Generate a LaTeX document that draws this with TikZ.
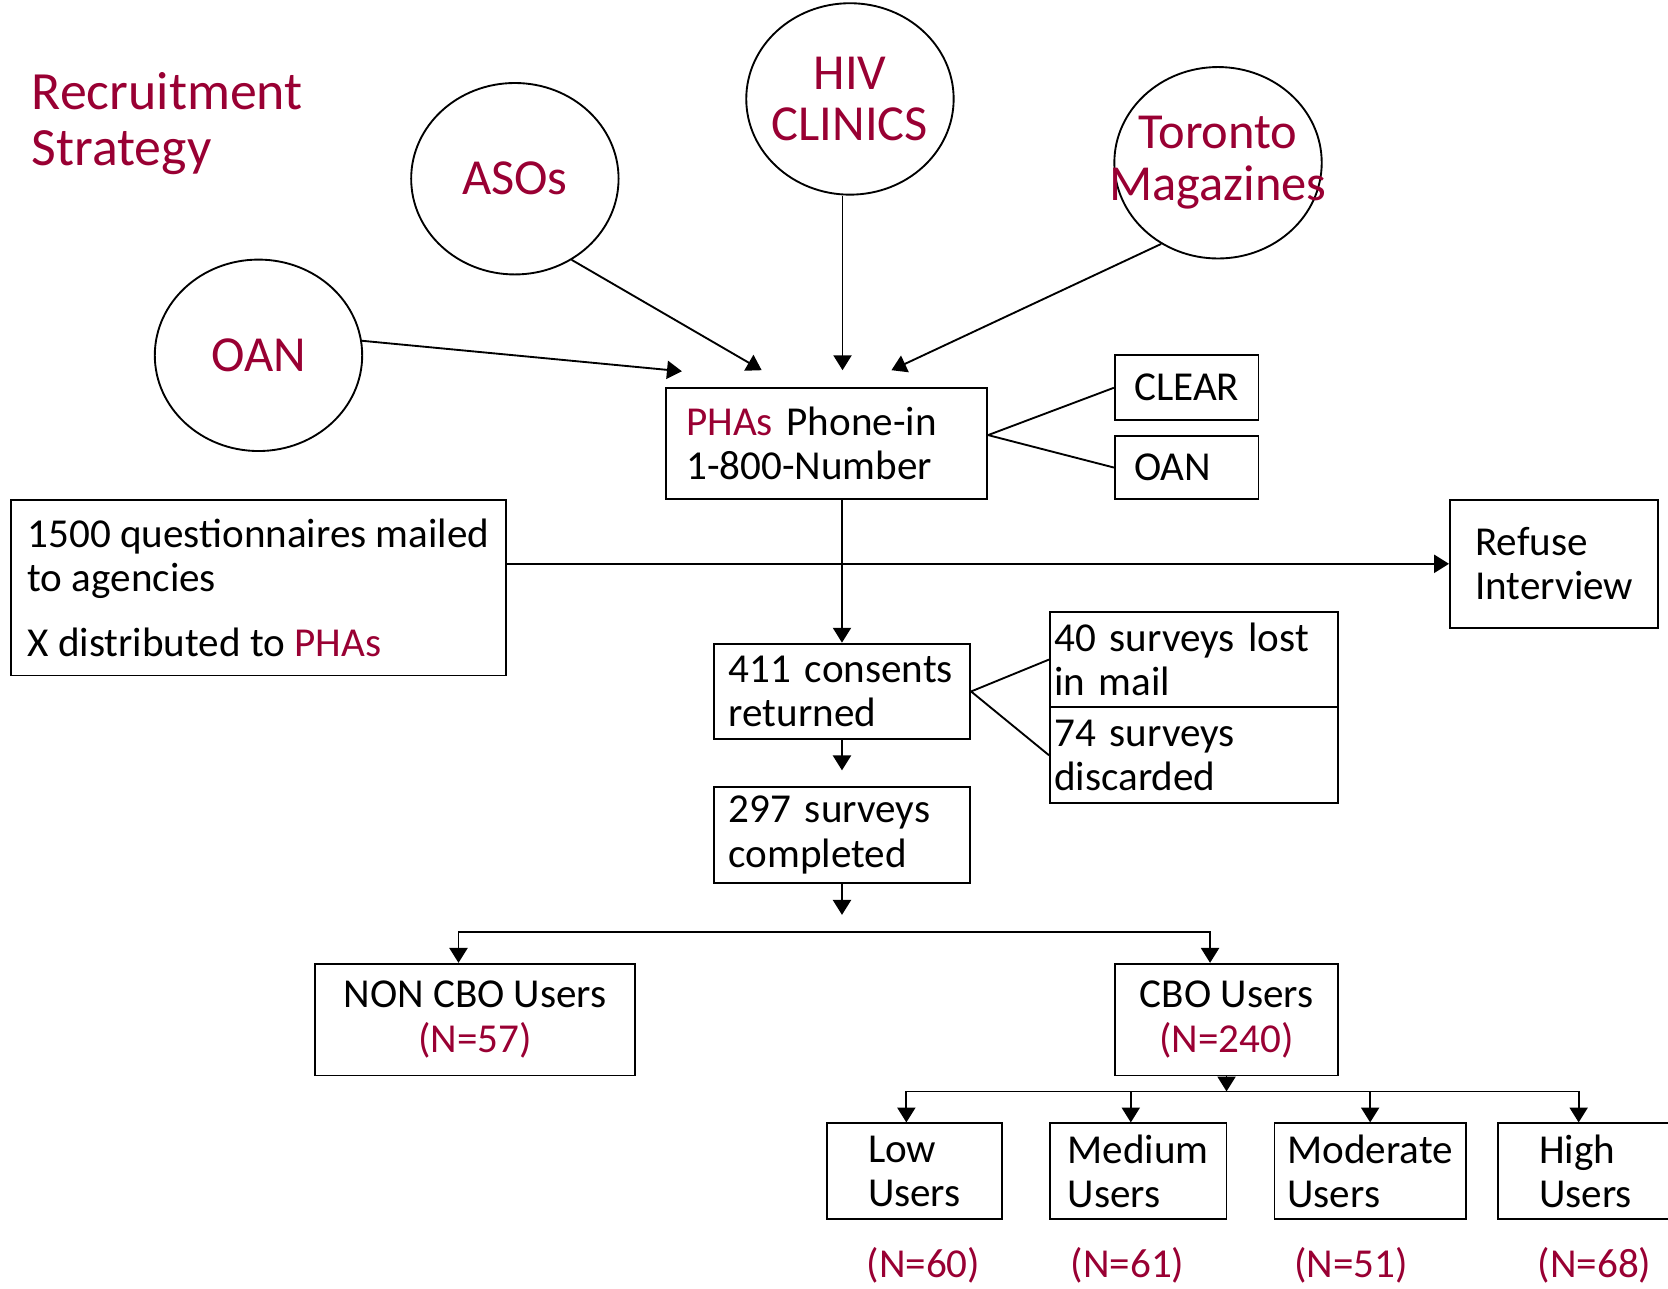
\documentclass[tikz,border=0pt]{standalone}
\usepackage{fontspec}
\setmainfont{Carlito}
\usetikzlibrary{shapes.geometric,arrows.meta}
\definecolor{phared}{RGB}{153,0,51}
\newcommand{\bigtxt}{\fontsize{27}{27.5}\selectfont}
\newcommand{\boxtxt}{\fontsize{22}{23.8}\selectfont}
\newcommand{\nowd}[1]{\makebox[0pt]{#1}}

\begin{document}
\begin{tikzpicture}[x=0.02cm,y=-0.02cm,line width=1pt,
  circ/.style={draw,ellipse,minimum width=3.9cm,minimum height=3.6cm,inner sep=0pt,font=\bigtxt,text=phared,align=center},
  box/.style={draw,inner sep=0pt,font=\boxtxt,align=left},
  arr/.style={-{Triangle[length=0.28cm,width=0.34cm]}}]
\useasboundingbox (0,0) rectangle (1568,1211);

\node[font=\fontsize{28.8}{30}\selectfont,text=phared,align=left,anchor=north west,inner sep=0pt] (title) at (29,67) {Recruitment\\Strategy};

% sources
\node[circ] (oan) at (243,334) {OAN};
\node[circ] (asos) at (484,168) {ASOs};
\node[circ] (hiv) at (799,93) {\nowd{HIV}\\\nowd{CLINICS}};
\node[circ] (tor) at (1145,153) {\nowd{Toronto}\\\nowd{Magazines}};

\coordinate (t1) at (641,349);
\coordinate (t2) at (716,348);
\coordinate (t3) at (792,348);
\coordinate (t4) at (838,348);

\node[box,text width=5.28cm,inner xsep=0.38cm,minimum height=2.08cm] (phas) at (777,417) {\textcolor{phared}{PHAs} Phone-in\\1-800-Number};
\node[box,minimum width=2.70cm,minimum height=1.22cm] (clear) at (1115.5,364.5) {CLEAR};
\node[box,text width=1.98cm,inner xsep=0.36cm,minimum height=1.18cm] (oanbox) at (1115.5,439.5) {OAN};

\node[box,minimum width=9.32cm,minimum height=3.30cm] (mail) at (243,552.5) {1500 questionnaires mailed\\to agencies\\[10.8pt]X distributed to \textcolor{phared}{PHAs}};
\node[box,minimum width=3.92cm,minimum height=2.40cm] (refuse) at (1461,530) {Refuse\\Interview};

\node[box,text width=4.26cm,inner xsep=0.28cm,minimum height=1.80cm] (c411) at (791.5,650) {411 consents\\returned};
\node[box,text width=5.26cm,inner xsep=0.08cm,minimum height=1.80cm] (lost) at (1122.5,620) {40 surveys lost\\in mail};
\node[box,text width=5.26cm,inner xsep=0.08cm,minimum height=1.80cm] (disc) at (1122.5,710) {74 surveys\\discarded};
\node[box,text width=4.26cm,inner xsep=0.28cm,minimum height=1.80cm] (c297) at (791.5,785) {297 surveys\\completed};

\node[box,align=center,minimum width=6.02cm,minimum height=2.10cm] (noncbo) at (446.5,958.5) {NON CBO Users\\\textcolor{phared}{(N=57)}};
\node[box,align=center,minimum width=4.20cm,minimum height=2.10cm] (cbo) at (1153,958.5) {CBO Users\\\textcolor{phared}{(N=240)}};

\foreach \nm/\x/\w/\lab in {low/859.5/3.30/Low,med/1070/3.32/Medium,mod/1288/3.60/Moderate,high/1490.5/3.30/High}
  \node[box,minimum width=\w cm,minimum height=1.80cm] (\nm) at (\x,1101) {\lab\\Users};
\foreach \nm/\x/\n in {low/868/60,med/1060/61,mod/1270/51,high/1499/68}
  \node[font=\boxtxt,text=phared] (n\nm) at (\x,1189) {(N=\n)};

% connectors
\draw[arr] (oan.8) -- (t1);
\draw[arr] (asos.-55) -- (t2);
\draw[arr] (hiv.south -| t3) -- (t3);
\draw[arr] (tor.-125) -- (t4);

\draw ([yshift=0.16cm]phas.east) -- (clear.west);
\draw ([yshift=0.16cm]phas.east) -- (oanbox.west);
\draw[arr] (c411.north |- phas.south) -- (c411.north);
\draw[arr] (mail.east |- refuse.west) -- (refuse.west);

\draw (c411.east) -- (lost.west);
\draw (c411.east) -- (disc.west);
\draw[arr,shorten >=0.3cm] (c411.south) -- (c297.north);

\coordinate (split) at (791.5,876);
\draw[arr,shorten >=0.32cm] (c297.south) -- (split);
\draw[arr] (split) -| ([xshift=-0.31cm]noncbo.north);
\draw[arr] (split) -| ([xshift=-0.31cm]cbo.north);

\coordinate (bus) at (1153,1026);
\draw[arr] (cbo.south) -- (bus);
\draw ([xshift=-0.15cm]low.north |- bus) -- ([xshift=-0.13cm]high.north |- bus);
\foreach \nm/\dx in {low/-0.15,med/-0.14,mod/0,high/-0.13}
  \draw[arr] ([xshift=\dx cm]\nm.north |- bus) -- ([xshift=\dx cm]\nm.north);
\end{tikzpicture}
\end{document}
